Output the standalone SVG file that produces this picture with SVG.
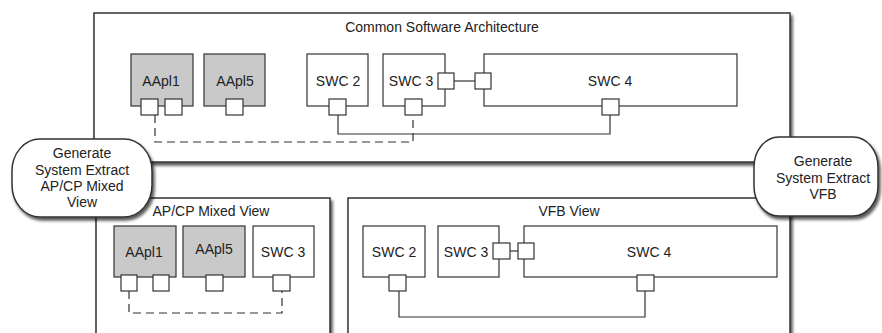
<svg xmlns="http://www.w3.org/2000/svg" width="882" height="333" viewBox="0 0 882 333">
<style>
text{font-family:"Liberation Sans",Arial,sans-serif;font-size:14px;fill:#222;text-anchor:middle}
.frame{fill:#fff;stroke:#333;stroke-width:1.5}
.bub{fill:#fff;stroke:#333;stroke-width:1.5}
.box{fill:#fff;stroke:#333;stroke-width:1.2}
.app{fill:#c9c9c9;stroke:#333;stroke-width:1.2}
.port{fill:#fff;stroke:#333;stroke-width:1.2}
.solid{fill:none;stroke:#333;stroke-width:1.2}
.dash{fill:none;stroke:#333;stroke-width:1.2;stroke-dasharray:8 5}
</style>
<defs>
<filter id="sh" x="-10%" y="-10%" width="130%" height="140%">
<feDropShadow dx="2" dy="3" stdDeviation="1.5" flood-color="#000" flood-opacity="0.65"/>
</filter>
</defs>

<g id="frame-common">
<rect class="frame" x="94" y="13" width="696" height="149" filter="url(#sh)"/>
<text x="442" y="32">Common Software Architecture</text>
</g>
<g id="frame-apcp">
<rect class="frame" x="96" y="198" width="234" height="145" filter="url(#sh)"/>
<text x="211" y="216">AP/CP Mixed View</text>
</g>
<g id="frame-vfb">
<rect class="frame" x="348" y="198" width="442" height="145" filter="url(#sh)"/>
<text x="569" y="216">VFB View</text>
</g>

<g id="connectors">
<path class="dash" d="M155,115 V142 H413 V115"/>
<path class="solid" d="M338,115 V134 H610 V115"/>
<path class="solid" d="M454,81 H475"/>
<path class="dash" d="M129,291 V313 H282 V291"/>
<path class="solid" d="M399,291 V317 H645 V291"/>
<path class="solid" d="M510,251 H518"/>
</g>

<g id="top-aapl1">
<rect class="app" x="131" y="54" width="62" height="52"/>
<text x="161" y="86">AApl1</text>
<rect class="port" x="141" y="99" width="17" height="16"/>
<rect class="port" x="165" y="99" width="17" height="16"/>
</g>
<g id="top-aapl5">
<rect class="app" x="204" y="54" width="61" height="52"/>
<text x="235" y="86">AApl5</text>
<rect class="port" x="226" y="99" width="17" height="16"/>
</g>
<g id="top-swc2">
<rect class="box" x="307" y="54" width="61" height="52"/>
<text x="338" y="86">SWC 2</text>
<rect class="port" x="329" y="99" width="17" height="16"/>
</g>
<g id="top-swc3">
<rect class="box" x="383" y="54" width="62" height="52"/>
<text x="411" y="86">SWC 3</text>
<rect class="port" x="405" y="99" width="17" height="16"/>
<rect class="port" x="438" y="73" width="16" height="16"/>
</g>
<g id="top-swc4">
<rect class="box" x="484" y="54" width="253" height="52"/>
<text x="610" y="86">SWC 4</text>
<rect class="port" x="475" y="73" width="16" height="16"/>
<rect class="port" x="602" y="99" width="17" height="16"/>
</g>

<g id="mix-aapl1">
<rect class="app" x="114" y="226" width="62" height="51"/>
<text x="144" y="257">AApl1</text>
<rect class="port" x="121" y="275" width="16" height="16"/>
<rect class="port" x="153" y="275" width="16" height="16"/>
</g>
<g id="mix-aapl5">
<rect class="app" x="183" y="226" width="62" height="51"/>
<text x="214" y="254">AApl5</text>
<rect class="port" x="206" y="275" width="17" height="16"/>
</g>
<g id="mix-swc3">
<rect class="box" x="253" y="226" width="61" height="51"/>
<text x="283" y="257">SWC 3</text>
<rect class="port" x="273" y="275" width="17" height="16"/>
</g>

<g id="vfb-swc2">
<rect class="box" x="363" y="226" width="62" height="51"/>
<text x="394" y="257">SWC 2</text>
<rect class="port" x="389" y="275" width="17" height="16"/>
</g>
<g id="vfb-swc3">
<rect class="box" x="438" y="226" width="61" height="51"/>
<text x="466" y="257">SWC 3</text>
<rect class="port" x="493" y="243" width="17" height="16"/>
</g>
<g id="vfb-swc4">
<rect class="box" x="524" y="226" width="253" height="51"/>
<text x="649" y="257">SWC 4</text>
<rect class="port" x="518" y="243" width="16" height="16"/>
<rect class="port" x="637" y="275" width="17" height="16"/>
</g>

<g id="gen-mixed">
<rect class="bub" x="12" y="139" width="140" height="78" rx="28" ry="32" filter="url(#sh)"/>
<text x="82" y="158">Generate</text>
<text x="82" y="175">System Extract</text>
<text x="82" y="191">AP/CP Mixed</text>
<text x="82" y="207">View</text>
</g>
<g id="gen-vfb">
<rect class="bub" x="754" y="137" width="124" height="79" rx="25" ry="30" filter="url(#sh)"/>
<text x="823" y="166">Generate</text>
<text x="823" y="183">System Extract</text>
<text x="823" y="199">VFB</text>
</g>
</svg>
